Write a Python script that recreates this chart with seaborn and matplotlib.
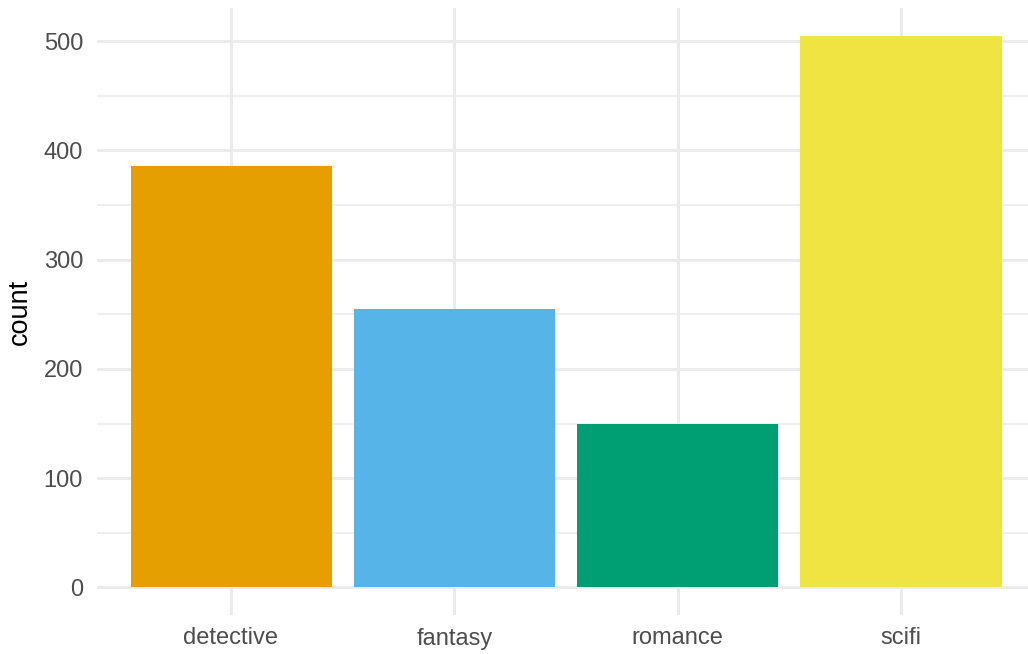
import matplotlib
matplotlib.use("Agg")
import matplotlib.pyplot as plt
import seaborn as sns
import pandas as pd
from matplotlib.ticker import MultipleLocator

genres = ["detective", "fantasy", "romance", "scifi"]
counts = [386, 255, 150, 505]
colors = ["#E69F00", "#56B4E9", "#009E73", "#F0E442"]

df = pd.DataFrame({"genre": genres, "count": counts})

sns.set_theme(style="white")
plt.rcParams["font.family"] = ["Liberation Sans", "DejaVu Sans"]

fig = plt.figure(figsize=(10.28, 6.54), dpi=100)
W, H = 1028, 654
left, right, top, bottom = 97, 1035, 8, 615
ax = fig.add_axes([left / W, 1 - bottom / H, (right - left) / W, (bottom - top) / H])

sns.barplot(data=df, x="genre", y="count", hue="genre", palette=colors,
            width=0.9, saturation=1, legend=False, ax=ax, zorder=3,
            linewidth=0, edgecolor="none")

ax.set_xlim(-0.6, 3.6)
ax.set_ylim(-25.25, 530.25)
ax.yaxis.set_major_locator(MultipleLocator(100))
ax.yaxis.set_minor_locator(MultipleLocator(50))
ax.grid(which="major", axis="both", color="#EBEBEB", linewidth=2.2, zorder=0)
ax.grid(which="minor", axis="y", color="#EBEBEB", linewidth=1.1, zorder=0)
ax.set_axisbelow(True)
for s in ax.spines.values():
    s.set_visible(False)
ax.tick_params(axis="both", which="both", length=0, labelsize=17,
               labelcolor="#4D4D4D")
ax.tick_params(axis="x", pad=9)
ax.tick_params(axis="y", pad=10)
ax.set_xlabel("")
ax.set_ylabel("count", fontsize=19.5, color="black", labelpad=8)

fig.savefig("out.png", dpi=100)
